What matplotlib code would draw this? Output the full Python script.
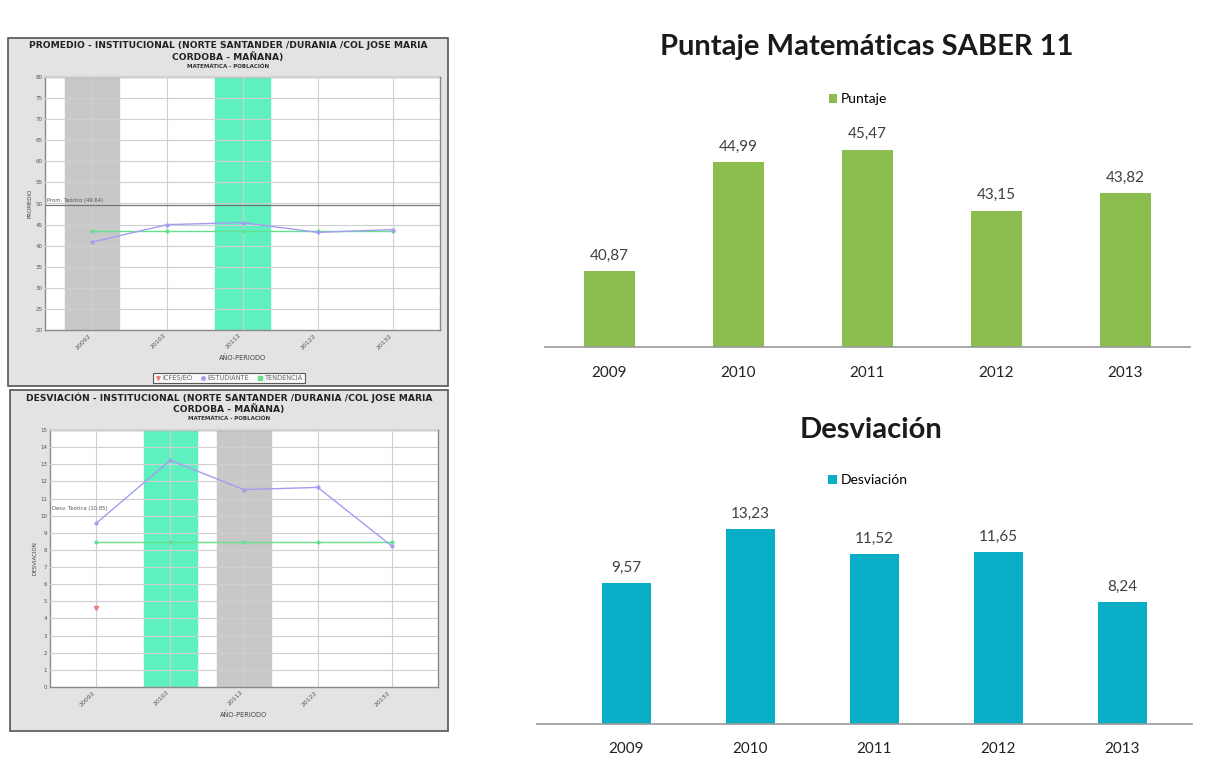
import matplotlib
matplotlib.use('Agg')
import matplotlib.pyplot as plt
from matplotlib.patches import Rectangle

# datos
anios = ['2009', '2010', '2011', '2012', '2013']
periodos = ['20092', '20102', '20112', '20122', '20132']
puntaje = [40.87, 44.99, 45.47, 43.15, 43.82]
desviacion = [9.57, 13.23, 11.52, 11.65, 8.24]
tendencia_prom = [43.4, 43.4, 43.4, 43.4, 43.4]
tendencia_desv = [8.45, 8.45, 8.45, 8.45, 8.45]
icfes_desv = [4.6]
prom_teorico = 49.64
desv_teorica = 10.85
ticks_prom = [20, 25, 30, 35, 40, 45, 50, 55, 60, 65, 70, 75, 80]
ticks_desv = list(range(0, 16))

W, H = 1215, 768
fig = plt.figure(figsize=(12.15, 7.68), dpi=100)
fig.patch.set_facecolor('white')

def fx(px):
    return px / W

def fy(py):
    return 1 - py / H

# ---------------- paneles de la izquierda (capturas) ----------------
def panel(frame, area, titulo, ticks, ylim, ylabel, verde, gris, linea, tend):
    x0, y0, x1, y1 = frame
    fig.patches.append(Rectangle((fx(x0), fy(y1)), fx(x1 - x0), (y1 - y0) / H,
                                 transform=fig.transFigure, facecolor='#e3e3e3',
                                 edgecolor='#555555', linewidth=1.2, zorder=-5))
    cx = (x0 + x1) / 2
    fig.text(fx(cx), fy(y0 + 8), titulo[0], ha='center', va='center',
             fontsize=6.6, fontweight='bold', color='#222222')
    fig.text(fx(cx), fy(y0 + 19), titulo[1], ha='center', va='center',
             fontsize=6.6, fontweight='bold', color='#222222')
    fig.text(fx(cx), fy(y0 + 29), 'MATEMÁTICA - POBLACIÓN', ha='center', va='center',
             fontsize=4, fontweight='bold', color='#333333')

    ax0, ay0, ax1, ay1 = area
    ax = fig.add_axes([fx(ax0), fy(ay1), fx(ax1 - ax0), (ay1 - ay0) / H])
    ax.set_facecolor('white')
    x = list(range(len(periodos)))
    ax.axvspan(gris - 0.36, gris + 0.36, color='#c8c8c8', zorder=1)
    ax.axvspan(verde - 0.36, verde + 0.36, color='#5ff0c0', zorder=1)
    ax.set_xlim(-0.63, 4.63)
    ax.set_ylim(*ylim)
    ax.set_yticks(ticks)
    ax.set_yticklabels([str(t) for t in ticks], fontsize=4, color='#555555')
    ax.set_xticks(x)
    ax.set_xticklabels(periodos, rotation=45, fontsize=4.5, color='#555555', ha='right')
    ax.grid(True, color='#cfcfcf', linewidth=0.8, zorder=2)
    ax.set_axisbelow(False)
    ax.tick_params(length=0, pad=2)
    for s in ax.spines.values():
        s.set_color('#8a8a8a')
        s.set_linewidth(1.0)
    ax.plot(x, tend, color='#66e08a', linewidth=1.0, marker='o',
            markersize=2, zorder=4)
    ax.plot(x, linea, color='#a49cf0', linewidth=1.0, marker='o',
            markersize=2, zorder=5)
    ax.set_ylabel(ylabel, fontsize=4, color='#444444', labelpad=2)
    ax.set_xlabel('AÑO-PERIODO', fontsize=4.8, color='#444444', labelpad=3)
    return ax

ax1 = panel((8, 38, 448, 386), (45, 77, 440, 330),
            ('PROMEDIO - INSTITUCIONAL (NORTE SANTANDER /DURANIA /COL JOSE MARIA',
             'CORDOBA - MAÑANA)'),
            ticks_prom, (20, 80), 'PROMEDIO', 2, 0, puntaje, tendencia_prom)
ax1.axhline(prom_teorico, color='#777777', linewidth=0.9, zorder=3)
ax1.text(-0.6, prom_teorico + 0.5, 'Prom. Teórico (49.64)', fontsize=3.8,
         color='#555555', va='bottom', zorder=6)
h1, = ax1.plot([], [], color='#f08080', marker='v', markersize=2.5, linewidth=0)
h2, = ax1.plot([], [], color='#a49cf0', marker='o', markersize=2.5, linewidth=0)
h3, = ax1.plot([], [], color='#66e08a', marker='s', markersize=2.5, linewidth=0)
leg = fig.legend([h1, h2, h3], ['ICFES/EO', 'ESTUDIANTE', 'TENDENCIA'],
                 loc='center', bbox_to_anchor=(fx(229), fy(378)), ncol=3,
                 fontsize=4.8, frameon=True, fancybox=False, handlelength=0.8,
                 handletextpad=0.3, columnspacing=1.2, borderpad=0.3)
leg.get_frame().set_edgecolor('#333333')
leg.get_frame().set_linewidth(0.8)
for t in leg.get_texts():
    t.set_color('#666666')

ax2 = panel((10, 390, 448, 731), (50, 430, 438, 687),
            ('DESVIACIÓN - INSTITUCIONAL (NORTE SANTANDER /DURANIA /COL JOSE MARIA',
             'CORDOBA - MAÑANA)'),
            ticks_desv, (0, 15), 'DESVIACIÓN', 1, 2, desviacion, tendencia_desv)
ax2.plot([0], icfes_desv, color='#f08080', marker='v', markersize=3,
         linewidth=0, zorder=6)
ax2.text(-0.6, desv_teorica - 0.6, 'Desv. Teórica (10.85)', fontsize=3.8,
         color='#555555', va='bottom', zorder=6)

# ---------------- graficas de la derecha ----------------
fuente = ['Lato', 'DejaVu Sans']
texto = '#404040'
xs = list(range(len(anios)))

# Puntaje
ax3 = fig.add_axes([fx(545), fy(347), fx(1190 - 545), (347 - 120) / H])
b1 = ax3.bar(xs, puntaje, width=0.4, color='#8cbd4f', label='Puntaje', zorder=2)
ax3.set_ylim(38, 46.6)
ax3.set_xlim(-0.5, 4.5)
ax3.set_yticks([])
ax3.set_xticks(xs)
ax3.set_xticklabels(anios, fontsize=11, color='#222222', family=fuente)
ax3.tick_params(axis='x', length=0, pad=14)
for s in ['top', 'right', 'left']:
    ax3.spines[s].set_visible(False)
ax3.spines['bottom'].set_color('#999999')
ax3.spines['bottom'].set_linewidth(1.2)
for xi, v in zip(xs, puntaje):
    ax3.text(xi, v + 0.33, f'{v:.2f}'.replace('.', ','), ha='center', va='bottom',
             fontsize=11, color=texto, family=fuente)
fig.text(fx(867), fy(47), 'Puntaje Matemáticas SABER 11', ha='center', va='center',
         fontsize=21, fontweight='bold', color='#1a1a1a', family=fuente)
fig.legend(handles=[b1], loc='center', bbox_to_anchor=(fx(858), fy(99)),
           frameon=False, handlelength=0.6, handleheight=0.6,
           handletextpad=0.3, prop={'family': fuente, 'size': 10})

# Desviación
ax4 = fig.add_axes([fx(537), fy(724), fx(1192 - 537), (724 - 505) / H])
b2 = ax4.bar(xs, desviacion, width=0.39, color='#08aec6', label='Desviación', zorder=2)
ax4.set_ylim(0, 14.85)
ax4.set_xlim(-0.72, 4.56)
ax4.set_yticks([])
ax4.set_xticks(xs)
ax4.set_xticklabels(anios, fontsize=11, color='#222222', family=fuente)
ax4.tick_params(axis='x', length=0, pad=13)
for s in ['top', 'right', 'left']:
    ax4.spines[s].set_visible(False)
ax4.spines['bottom'].set_color('#999999')
ax4.spines['bottom'].set_linewidth(1.2)
for xi, v in zip(xs, desviacion):
    ax4.text(xi, v + 0.55, f'{v:.2f}'.replace('.', ','), ha='center', va='bottom',
             fontsize=11, color=texto, family=fuente)
fig.text(fx(871), fy(430), 'Desviación', ha='center', va='center',
         fontsize=21, fontweight='bold', color='#1a1a1a', family=fuente)
fig.legend(handles=[b2], loc='center', bbox_to_anchor=(fx(868), fy(480)),
           frameon=False, handlelength=0.6, handleheight=0.6,
           handletextpad=0.3, prop={'family': fuente, 'size': 10})

fig.savefig('out.png', dpi=100)
